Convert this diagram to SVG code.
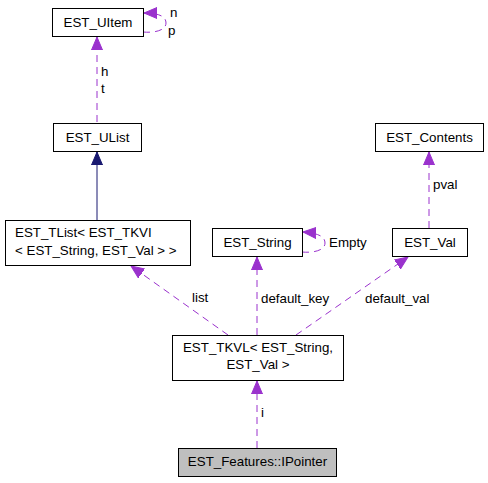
<svg xmlns="http://www.w3.org/2000/svg" width="488" height="483" viewBox="0 0 488 483">
<defs>
<style>
.node rect{fill:#ffffff;stroke:#000000;stroke-width:1}
.node.hl rect{fill:#bfbfbf}
text{font-family:"Liberation Sans",Arial,sans-serif;font-size:13.33px;fill:#000000}
.c{text-anchor:middle}
.e{fill:none;stroke:#9a32cd;stroke-width:1;stroke-dasharray:7,5}
.inh{fill:none;stroke:#191970;stroke-width:1}
</style>
<marker id="ap" markerUnits="userSpaceOnUse" markerWidth="14" markerHeight="12" refX="13" refY="6" orient="auto" viewBox="0 0 14 12">
<path d="M0,0.5 L13,6 L0,11.5 Z" fill="#9a32cd" stroke="#9a32cd"/>
</marker>
<marker id="an" markerUnits="userSpaceOnUse" markerWidth="14" markerHeight="12" refX="13" refY="6" orient="auto" viewBox="0 0 14 12">
<path d="M0,0.5 L13,6 L0,11.5 Z" fill="#191970" stroke="#191970"/>
</marker>
</defs>
<rect width="488" height="483" fill="#ffffff"/>
<g id="edges">
<path class="e" d="M143,32 C153,33 166,31 166,23 C166,16 158,13 144,13" marker-end="url(#ap)"/>
<text x="170" y="17">n</text>
<text x="168" y="35">p</text>
<path class="e" d="M97,122 L97,37" marker-end="url(#ap)"/>
<text x="101" y="76">h</text>
<text x="101" y="93">t</text>
<path class="inh" d="M97,220 L97,152" marker-end="url(#an)"/>
<path class="e" d="M228,335 L131,266" marker-end="url(#ap)"/>
<text x="192" y="302">list</text>
<path class="e" d="M302,252 C312,253 325,251 325,243 C325,236 317,233 303,232" marker-end="url(#ap)"/>
<text x="329" y="247">Empty</text>
<path class="e" d="M257,335 L257,257" marker-end="url(#ap)"/>
<text x="261" y="303">default_key</text>
<path class="e" d="M296,335 L408,257" marker-end="url(#ap)"/>
<text x="365" y="303">default_val</text>
<path class="e" d="M429,228 L429,152" marker-end="url(#ap)"/>
<text x="433" y="189">pval</text>
<path class="e" d="M257,448 L257,381" marker-end="url(#ap)"/>
<text x="261" y="417">i</text>
</g>
<g id="EST_UItem" class="node"><rect x="52.5" y="8.5" width="91" height="28"/><text class="c" x="98" y="27">EST_UItem</text></g>
<g id="EST_UList" class="node"><rect x="53.5" y="123.5" width="88" height="28"/><text class="c" x="97.5" y="142">EST_UList</text></g>
<g id="EST_TList" class="node"><rect x="5.5" y="220.5" width="185" height="45"/><text x="15" y="237">EST_TList&lt; EST_TKVI</text><text x="15" y="255">&lt; EST_String, EST_Val &gt; &gt;</text></g>
<g id="EST_String" class="node"><rect x="212.5" y="228.5" width="90" height="28"/><text class="c" x="257.5" y="247">EST_String</text></g>
<g id="EST_Val" class="node"><rect x="392.5" y="228.5" width="75" height="28"/><text class="c" x="430" y="247">EST_Val</text></g>
<g id="EST_Contents" class="node"><rect x="375.5" y="123.5" width="108" height="28"/><text class="c" x="429.5" y="142">EST_Contents</text></g>
<g id="EST_TKVL" class="node"><rect x="172.5" y="335.5" width="171" height="45"/><text class="c" x="258" y="352">EST_TKVL&lt; EST_String,</text><text class="c" x="258" y="369">EST_Val &gt;</text></g>
<g id="IPointer" class="node hl"><rect x="178.5" y="448.5" width="158" height="28"/><text class="c" x="257.5" y="466">EST_Features::IPointer</text></g>
</svg>
